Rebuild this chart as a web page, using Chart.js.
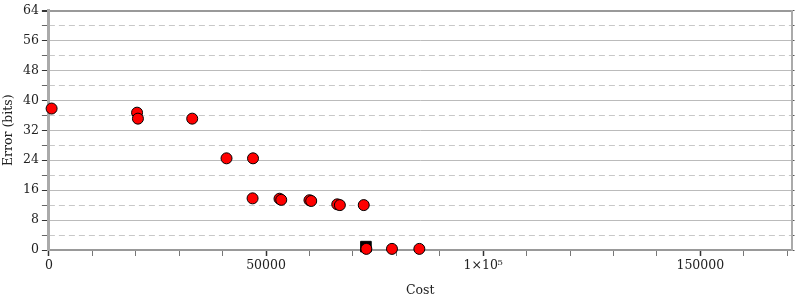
<!DOCTYPE html>
<html>
<head>
<meta charset="utf-8">
<script src="https://cdn.jsdelivr.net/npm/chart.js@4.4.1/dist/chart.umd.min.js"></script>
<style>
  html, body { margin: 0; padding: 0; background: #fff; }
  #wrap { width: 800px; height: 300px; }
</style>
</head>
<body>
<div id="wrap"><canvas id="myChart"></canvas></div>
<script>
// pontos vermelhos (custo, erro)
const costs = [620, 20300, 20500, 33000, 40900, 47000, 46900, 53100, 53500, 60000, 60400, 66400, 67000, 72500, 73100, 79000, 85300];
const errors = [37.8, 36.7, 35.1, 35.1, 24.5, 24.5, 13.8, 13.7, 13.4, 13.3, 13.1, 12.2, 12.0, 12.0, 0.3, 0.3, 0.3];
// ponto quadrado preto
const squareCost = [73000];
const squareError = [0.9];

const xTicks = [0, 10000, 20000, 30000, 40000, 50000, 60000, 70000, 80000, 90000, 100000, 110000, 120000, 130000, 140000, 150000, 160000, 170000];
const xMajorLabels = { 0: '0', 50000: '50000', 100000: '1×10⁵', 150000: '150000' };
const yMajorTicks = [0, 8, 16, 24, 32, 40, 48, 56, 64];
const yMinorTicks = [4, 12, 20, 28, 36, 44, 52, 60];

document.addEventListener('DOMContentLoaded', () => {
    Chart.defaults.font.family = "'DejaVu Serif', serif";
    Chart.defaults.font.size = 12.5;
    Chart.defaults.color = '#222';

    const redPoints = costs.map((c, i) => ({ x: c, y: errors[i] }));
    const squarePoints = squareCost.map((c, i) => ({ x: c, y: squareError[i] }));

    const xLabel = v => xMajorLabels[Math.round(v)];
    const yKey = v => Math.round(v);

    const ctx = document.getElementById('myChart').getContext('2d');
    const myChart = new Chart(ctx, {
        type: 'scatter',
        data: {
            datasets: [
                {
                    label: 'points',
                    data: redPoints,
                    backgroundColor: '#ff0000',
                    borderColor: '#000',
                    borderWidth: 1,
                    pointRadius: 5.5,
                    order: 0
                },
                {
                    label: 'square',
                    data: squarePoints,
                    pointStyle: 'rect',
                    backgroundColor: '#000',
                    borderColor: '#000',
                    borderWidth: 1,
                    pointRadius: 7.5,
                    order: 1
                }
            ]
        },
        options: {
            responsive: true,
            maintainAspectRatio: false,
            animation: false,
            clip: false,
            layout: { padding: { top: 6, right: 1, left: 1, bottom: 0 } },
            plugins: {
                legend: { display: false },
                tooltip: { enabled: false }
            },
            scales: {
                x: {
                    type: 'linear',
                    min: 0,
                    max: 171000,
                    afterBuildTicks: axis => {
                        axis.ticks = xTicks.map(v => ({ value: v }));
                    },
                    grid: {
                        drawOnChartArea: false,
                        tickLength: 6,
                        tickColor: c => (xLabel(c.tick.value) !== undefined ? '#333' : '#777'),
                        tickWidth: c => (xLabel(c.tick.value) !== undefined ? 1.5 : 1)
                    },
                    border: { color: '#999', width: 2 },
                    ticks: {
                        autoSkip: false,
                        maxRotation: 0,
                        padding: 2,
                        callback: v => (xLabel(v) !== undefined ? xLabel(v) : '')
                    },
                    title: { display: true, text: 'Cost', padding: { top: 8, bottom: 2 } }
                },
                y: {
                    position: 'left',
                    min: 0,
                    max: 64,
                    grid: {
                        color: c => (yMajorTicks.includes(yKey(c.tick.value)) ? (yKey(c.tick.value) === 64 ? '#999' : '#bbb') : 'rgba(0,0,0,0)'),
                        lineWidth: c => (yKey(c.tick.value) === 64 ? 2 : 1),
                        tickColor: c => (yMajorTicks.includes(yKey(c.tick.value)) ? '#333' : '#666'),
                        tickLength: 7
                    },
                    border: { color: '#aaa', width: 3 },
                    ticks: {
                        stepSize: 4,
                        autoSkip: false,
                        padding: 3,
                        callback: v => (yMajorTicks.includes(yKey(v)) ? String(yKey(v)) : '')
                    },
                    title: { display: true, text: 'Error (bits)', padding: { top: 0, bottom: 4 } }
                },
                yMinor: {
                    position: 'right',
                    min: 0,
                    max: 64,
                    afterBuildTicks: axis => {
                        axis.ticks = yMajorTicks.concat(yMinorTicks).map(v => ({ value: v }));
                    },
                    grid: {
                        color: c => (yMinorTicks.includes(yKey(c.tick.value)) ? '#c8c8c8' : 'rgba(0,0,0,0)'),
                        tickColor: '#555',
                        tickLength: 3
                    },
                    border: { color: '#aaa', width: 2, dash: [6, 4] },
                    ticks: { display: false }
                }
            }
        }
    });
});
</script>
</body>
</html>
